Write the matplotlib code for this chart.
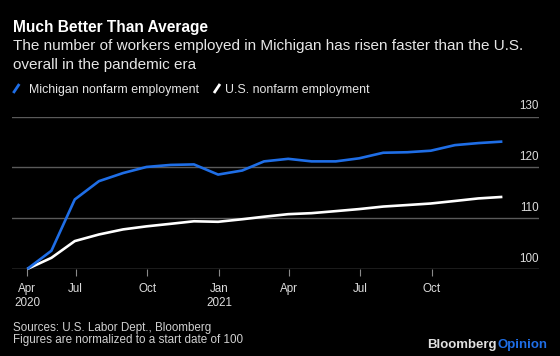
import matplotlib
matplotlib.use("Agg")
import matplotlib.pyplot as plt
import matplotlib.transforms as mtransforms
import pandas as pd

# ---- data ----
months = ["2020-04-30", "2020-05-31", "2020-06-30", "2020-07-31", "2020-08-31",
          "2020-09-30", "2020-10-31", "2020-11-30", "2020-12-31", "2021-01-31",
          "2021-02-28", "2021-03-31", "2021-04-30", "2021-05-31", "2021-06-30",
          "2021-07-31", "2021-08-31", "2021-09-30", "2021-10-31", "2021-11-30",
          "2021-12-31"]
michigan = [100.0, 103.6, 113.7, 117.3, 118.9, 120.1, 120.5, 120.6, 118.6, 119.4,
            121.2, 121.7, 121.2, 121.2, 121.8, 122.9, 123.0, 123.3, 124.4, 124.8,
            125.1]
us = [100.0, 102.2, 105.5, 106.8, 107.8, 108.4, 108.9, 109.4, 109.3, 109.8,
      110.3, 110.8, 111.0, 111.4, 111.8, 112.3, 112.6, 112.9, 113.4, 113.9,
      114.2]
tick_dates = ["2020-04-30", "2020-07-01", "2020-10-01", "2021-01-01",
              "2021-04-01", "2021-07-01", "2021-10-01"]
tick_labels = ["Apr\n2020", "Jul", "Oct", "Jan\n2021", "Apr", "Jul", "Oct"]
y_ticks = [100, 110, 120, 130]

title = "Much Better Than Average"
subtitle1 = "The number of workers employed in Michigan has risen faster than the U.S."
subtitle2 = "overall in the pandemic era"
legend_labels = ["Michigan nonfarm employment", "U.S. nonfarm employment"]
footer1 = "Sources: U.S. Labor Dept., Bloomberg"
footer2 = "Figures are normalized to a start date of 100"

BLUE = "#1f6ee6"
FONT = "Liberation Sans"
W, H = 560, 356

plt.rcParams["font.family"] = [FONT, "DejaVu Sans"]

fig = plt.figure(figsize=(W / 100, H / 100), dpi=100, facecolor="black")
ax = fig.add_axes([11.7 / W, 1 - 269 / H, (539 - 11.7) / W, (269 - 116.7) / H])
ax.set_facecolor("black")

x = pd.to_datetime(months)
ax.set_xlim(pd.Timestamp("2020-04-10"), pd.Timestamp("2022-02-16"))
ax.set_ylim(100, 130)

for v in y_ticks[1:]:
    ax.axhline(v, color="#5a5a5a", lw=1.0, zorder=1)
ax.axhline(100, color="#8a8a8a", lw=1.0, zorder=1)

ax.plot(x, us, color="white", lw=1.9, zorder=3, clip_on=False, solid_capstyle="butt")
ax.plot(x, michigan, color=BLUE, lw=1.9, zorder=4, clip_on=False, solid_capstyle="butt")

for s in ax.spines.values():
    s.set_visible(False)
ax.set_yticks([])
ax.set_xticks(pd.to_datetime(tick_dates))
ax.set_xticklabels(tick_labels, color="#dcdcdc", fontsize=8.4, linespacing=1.2)
ax.tick_params(axis="x", length=5, width=0.8, color="#8a8a8a", pad=5)

# right-side y labels above gridlines
trans = mtransforms.blended_transform_factory(ax.transAxes, ax.transData)
trans = mtransforms.offset_copy(trans, fig=fig, x=0, y=7.5, units="dots")
for v in y_ticks:
    ax.text(1.0, v, str(v), transform=trans, ha="right", va="baseline",
            color="#dcdcdc", fontsize=8.4)

def fx(px):
    return px / W

def fy(py):
    return 1 - py / H

fig.text(fx(12.7), fy(31.7), title, color="white", fontsize=11.2,
         fontweight="bold", va="baseline", ha="left")
fig.text(fx(12.7), fy(50), subtitle1, color="#e6e6e6", fontsize=11.0,
         va="baseline", ha="left")
fig.text(fx(12.7), fy(69), subtitle2, color="#e6e6e6", fontsize=11.0,
         va="baseline", ha="left")

# legend
fig.add_artist(plt.Line2D([fx(13.3), fx(19.3)], [fy(93), fy(84)], color=BLUE,
                          lw=2.0, transform=fig.transFigure, solid_capstyle="butt"))
fig.text(fx(29.3), fy(93), legend_labels[0], color="#e6e6e6", fontsize=8.9,
         va="baseline", ha="left")
fig.add_artist(plt.Line2D([fx(214), fx(220)], [fy(93), fy(84)], color="white",
                          lw=2.0, transform=fig.transFigure, solid_capstyle="butt"))
fig.text(fx(225), fy(93), legend_labels[1], color="#e6e6e6", fontsize=8.9,
         va="baseline", ha="left")

# footer
fig.text(fx(12.7), fy(330.7), footer1, color="#d0d0d0", fontsize=8.4,
         va="baseline", ha="left")
fig.text(fx(12.7), fy(342.7), footer2, color="#d0d0d0", fontsize=8.4,
         va="baseline", ha="left")

t_op = fig.text(fx(547), fy(348), "Opinion", color=BLUE, fontsize=9.5,
                fontweight="bold", va="baseline", ha="right")
fig.canvas.draw()
bb = t_op.get_window_extent()
fig.text(bb.x0 / W, fy(348), "Bloomberg", color="#e0e0e0", fontsize=9.5,
         fontweight="bold", va="baseline", ha="right")

fig.savefig("out.png", dpi=100, facecolor="black")
